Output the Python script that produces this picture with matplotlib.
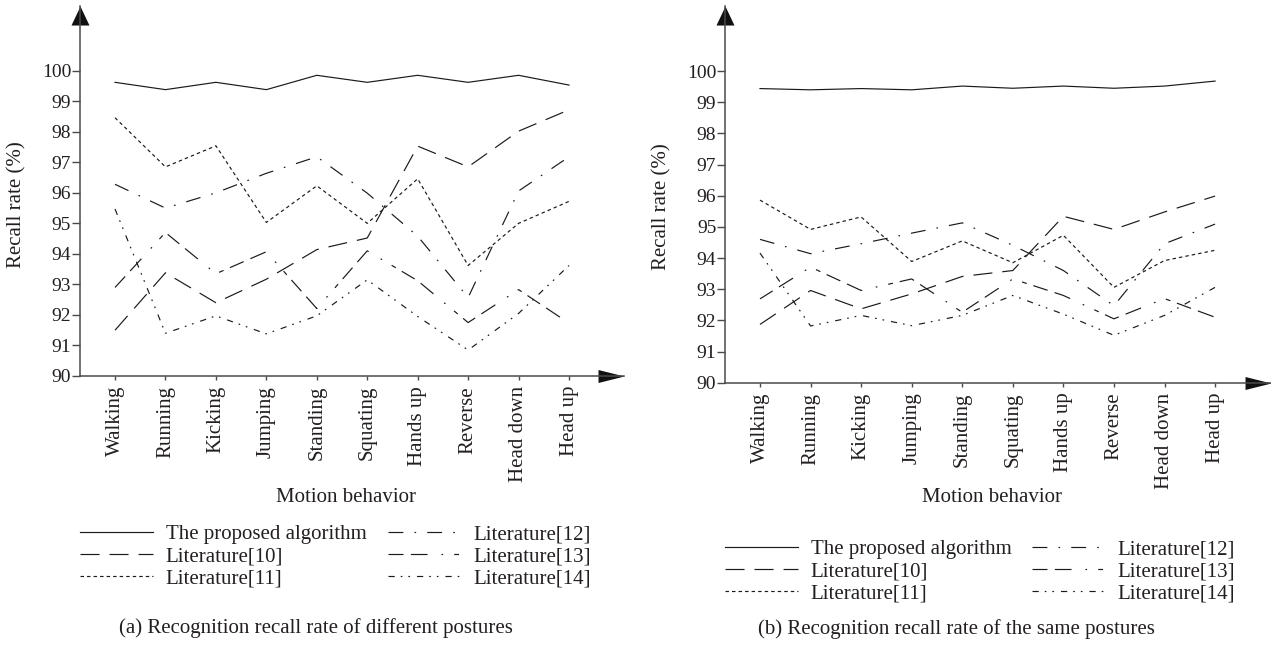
import matplotlib
matplotlib.use('Agg')
import matplotlib.pyplot as plt
from matplotlib.path import Path

# ---------------- data ----------------
categories = ['Walking', 'Running', 'Kicking', 'Jumping', 'Standing',
              'Squating', 'Hands up', 'Reverse', 'Head down', 'Head up']
yticks = [90, 91, 92, 93, 94, 95, 96, 97, 98, 99, 100]

series_names = ['The proposed algorithm', 'Literature[10]', 'Literature[11]',
                'Literature[12]', 'Literature[13]', 'Literature[14]']

# (a) different postures
proposed_a = [99.62, 99.38, 99.62, 99.38, 99.85, 99.62, 99.85, 99.62, 99.85, 99.53]
lit10_a = [91.50, 93.38, 92.40, 93.17, 94.14, 94.52, 97.53, 96.85, 98.02, 98.72]
lit11_a = [98.46, 96.85, 97.54, 95.03, 96.23, 95.00, 96.46, 93.62, 95.00, 95.72]
lit12_a = [96.28, 95.50, 96.00, 96.64, 97.18, 95.99, 94.58, 92.57, 96.06, 97.18]
lit13_a = [92.90, 94.70, 93.35, 94.07, 92.21, 94.10, 93.12, 91.75, 92.83, 91.73]
lit14_a = [95.47, 91.40, 91.97, 91.38, 91.97, 93.15, 91.95, 90.85, 92.05, 93.62]

# (b) same postures
proposed_b = [99.44, 99.40, 99.44, 99.40, 99.52, 99.45, 99.52, 99.45, 99.52, 99.68]
lit10_b = [91.87, 92.96, 92.37, 92.85, 93.41, 93.60, 95.34, 94.92, 95.48, 95.99]
lit11_b = [95.86, 94.92, 95.32, 93.89, 94.55, 93.85, 94.73, 93.06, 93.92, 94.25]
lit12_b = [94.60, 94.14, 94.46, 94.80, 95.13, 94.41, 93.60, 92.47, 94.46, 95.09]
lit13_b = [92.69, 93.71, 92.96, 93.33, 92.26, 93.33, 92.80, 92.05, 92.70, 92.10]
lit14_b = [94.16, 91.82, 92.16, 91.83, 92.16, 92.80, 92.20, 91.52, 92.16, 93.06]

captions = ['(a) Recognition recall rate of different postures',
            '(b) Recognition recall rate of the same postures']

# ---------------- style ----------------
plt.rcParams['font.family'] = ['Liberation Serif', 'DejaVu Serif']
plt.rcParams['lines.scale_dashes'] = False
TXT = '#231f20'
AX = '#4a4a4a'
LC = '#1a1a1a'
FS = 15

styles = [
    dict(linestyle='-'),
    dict(linestyle=(0, (13.7, 7.2))),
    dict(linestyle=(0, (2.5, 2.2))),
    dict(linestyle=(0, (10.7, 8.0, 1.2, 8.0))),
    dict(linestyle=(0, (10.8, 5.3, 12.0, 10.0, 1.2, 8.0, 3.5, 5.0))),
    dict(linestyle=(0, (4.5, 4.3, 1.2, 4.3, 1.2, 5.0))),
]

W, H = 1271, 646
fig = plt.figure(figsize=(W / 100, H / 100), dpi=100)

panels = [
    dict(rect=[80 / W, 1 - 376 / H, 544 / W, 370 / H], xlim=(-0.694, 10.09), ylim=(90, 102.12),
         data=[proposed_a, lit10_a, lit11_a, lit12_a, lit13_a, lit14_a],
         ylab=(17, 205), xlab=(346, 498), cap=(316, 628),
         leg1=(80, 524.5), leg2=(388, 524.5)),
    dict(rect=[725 / W, 1 - 382.7 / H, 545.7 / W, 376.7 / H], xlim=(-0.692, 10.10), ylim=(90, 102.09),
         data=[proposed_b, lit10_b, lit11_b, lit12_b, lit13_b, lit14_b],
         ylab=(662, 207), xlab=(992, 498), cap=(956, 629),
         leg1=(725, 539.5), leg2=(1032, 539.5)),
]

top_arrow = Path([(0, 0), (-9, -19), (9, -19), (0, 0)],
                 [Path.MOVETO, Path.LINETO, Path.LINETO, Path.CLOSEPOLY])
right_arrow = Path([(0, 0), (-26, 6.5), (-26, -6.5), (0, 0)],
                   [Path.MOVETO, Path.LINETO, Path.LINETO, Path.CLOSEPOLY])

for p, cap in zip(panels, captions):
    ax = fig.add_axes(p['rect'])
    x = list(range(len(categories)))
    for name, vals, st in zip(series_names, p['data'], styles):
        ax.plot(x, vals, color=LC, lw=0.85, label=name, **st)
    ax.set_xlim(*p['xlim'])
    ax.set_ylim(*p['ylim'])
    for s in ['top', 'right']:
        ax.spines[s].set_visible(False)
    for s in ['left', 'bottom']:
        ax.spines[s].set_color(AX)
        ax.spines[s].set_linewidth(1.1)
    ax.set_xticks(x)
    ax.set_xticklabels(categories, rotation=90, fontsize=FS, color=TXT)
    ax.set_yticks(yticks)
    ax.set_yticklabels([str(v) for v in yticks], fontsize=14, color=TXT)
    ax.tick_params(axis='x', length=2.9, width=1.0, color=AX, pad=4.3)
    ax.tick_params(axis='y', length=5.5, width=1.0, color=AX, pad=0.8)
    ax.patch.set_alpha(0)
    # arrow heads
    ax.plot([0], [1], transform=ax.transAxes, marker=top_arrow, ms=27.4,
            color='#111111', mew=0, linestyle='none', clip_on=False)
    ax.plot([1], [0], transform=ax.transAxes, marker=right_arrow, ms=37.4,
            color='#111111', mew=0, linestyle='none', clip_on=False)

    fig.text(p['ylab'][0] / W, 1 - p['ylab'][1] / H, 'Recall rate (%)', rotation=90,
             ha='center', va='center', fontsize=FS, color=TXT)
    fig.text(p['xlab'][0] / W, 1 - p['xlab'][1] / H, 'Motion behavior',
             ha='center', va='center', fontsize=FS, color=TXT)
    fig.text(p['cap'][0] / W, 1 - p['cap'][1] / H, cap,
             ha='center', va='center', fontsize=FS, color=TXT)

    handles, labels = ax.get_legend_handles_labels()
    common = dict(loc='upper left', frameon=False, fontsize=FS, handlelength=3.5,
                  handletextpad=0.62, labelspacing=0.12, borderpad=0, borderaxespad=0,
                  bbox_transform=fig.transFigure, labelcolor=TXT)
    l1 = ax.legend(handles[:3], labels[:3],
                   bbox_to_anchor=(p['leg1'][0] / W, 1 - p['leg1'][1] / H), **common)
    ax.add_artist(l1)
    ax.legend(handles[3:], labels[3:],
              bbox_to_anchor=(p['leg2'][0] / W, 1 - p['leg2'][1] / H), **common)

fig.savefig('out.png', dpi=100)
